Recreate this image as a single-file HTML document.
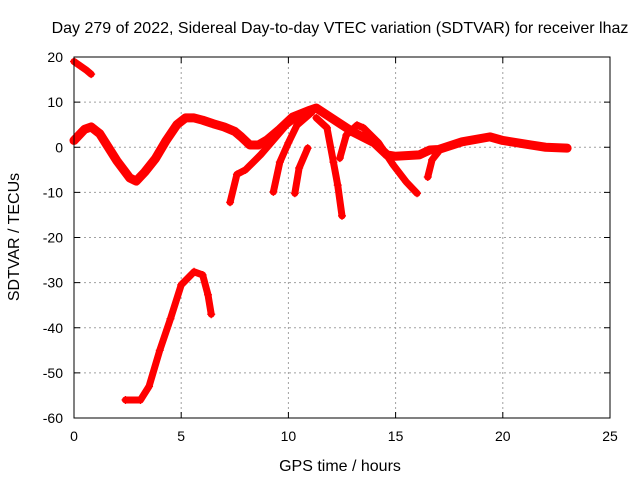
<!DOCTYPE html>
<html><head><meta charset="utf-8"><style>
body{margin:0;background:#fff}
svg{display:block;font-family:"Liberation Sans",sans-serif}
</style></head><body>
<svg id="chart" width="640" height="480">
<rect width="640" height="480" fill="#fff"/>
<g id="grid"></g>
<g id="series"></g>
<rect x="74" y="57" width="536" height="361" fill="none" stroke="#000" stroke-width="1"/>
<g id="ticks"></g>
<text x="340" y="33" text-anchor="middle" font-size="16">Day 279 of 2022, Sidereal Day-to-day VTEC variation (SDTVAR) for receiver lhaz</text>
<text x="340" y="471" text-anchor="middle" font-size="16">GPS time / hours</text>
<text transform="translate(19,237) rotate(-90)" text-anchor="middle" font-size="16">SDTVAR / TECUs</text>
</svg>
<script>
const xTicks=[0,5,10,15,20,25];
const yTicks=[-60,-50,-40,-30,-20,-10,0,10,20];
const trackA_t=[0,0.3,0.6,0.8];
const trackA_v=[19,18,17,16.2];
const trackMain_t=[0,0.5,0.8,1.2,2,2.6,2.9,3.3,3.8,4.3,4.8,5.2,5.6,6,6.5,7,7.5,7.8,8.2,8.6,9,9.6,10.2,11,11.3,12,13,14,14.6,15,16.1,16.6,17,18.1,19.4,20,21.3,22,23];
const trackMain_v=[1.5,4,4.5,3,-3,-6.8,-7.5,-5.5,-2.5,1.5,5,6.5,6.5,6,5.2,4.5,3.5,2.3,0.5,0.5,1.6,4,6.7,8.2,8.7,6.5,3.4,1,-1.7,-2,-1.7,-0.6,-0.5,1.2,2.3,1.5,0.5,0,-0.2];
const trackC_t=[7.28,7.6,8.0,8.7,9.9,10.5];
const trackC_v=[-12.2,-6,-5,-1.7,4.9,7.1];
const trackD_t=[9.3,9.6,10,10.4,11.1];
const trackD_v=[-9.9,-3.3,1,4.9,7.8];
const trackE_t=[10.3,10.5,10.9];
const trackE_v=[-10.2,-4.6,-0.2];
const trackF_t=[11.3,11.8,12.1,12.3,12.5];
const trackF_v=[6.5,4.3,-3.3,-8.4,-15.2];
const trackG_t=[12.4,12.7,13.2,13.5,14.2,14.9,15.5,16];
const trackG_v=[-2.4,2.7,4.9,4.3,1,-4,-7.7,-10.2];
const trackH_t=[16.5,16.7,17];
const trackH_v=[-6.6,-2.8,-1];
const trackI_t=[2.4,3.1,3.5,4,4.5,5,5.6,6,6.25,6.4];
const trackI_v=[-56,-56,-53,-45,-38,-30.5,-27.6,-28.3,-32.7,-37];
const tracks=[[trackA_t,trackA_v],[trackMain_t,trackMain_v],[trackC_t,trackC_v],[trackD_t,trackD_v],[trackE_t,trackE_v],[trackF_t,trackF_v],[trackG_t,trackG_v],[trackH_t,trackH_v],[trackI_t,trackI_v]];
const X=t=>74+t*536/25, Y=v=>57+(20-v)*361/80;
const NS="http://www.w3.org/2000/svg";
function mk(tag,attrs,parent){const e=document.createElementNS(NS,tag);for(const k in attrs)e.setAttribute(k,attrs[k]);parent.appendChild(e);return e;}
const grid=document.getElementById('grid'),ticks=document.getElementById('ticks'),ser=document.getElementById('series');
xTicks.forEach(t=>{const x=X(t);
 if(t>0&&t<25){const g=mk('line',{x1:x,x2:x,y1:57,y2:418,stroke:'#a0a0a0','stroke-dasharray':'2,3'},grid);
 
 }
 mk('line',{x1:x,x2:x,y1:418,y2:412,stroke:'#000'},ticks);mk('line',{x1:x,x2:x,y1:57,y2:63,stroke:'#000'},ticks);
 const l=mk('text',{x:x,y:441,'text-anchor':'middle','font-size':14},ticks);l.textContent=t;
 
 });
yTicks.forEach(v=>{const y=Y(v);
 if(v>-60&&v<20){const g=mk('line',{x1:74,x2:610,y1:y,y2:y,stroke:'#a0a0a0','stroke-dasharray':'2,3'},grid);
 
 }
 mk('line',{x1:74,x2:80,y1:y,y2:y,stroke:'#000'},ticks);mk('line',{x1:604,x2:610,y1:y,y2:y,stroke:'#000'},ticks);
 const l=mk('text',{x:63,y:y+5,'text-anchor':'end','font-size':14},ticks);l.textContent=v;
 
 });
tracks.forEach(([ts,vs],i)=>{
 const pts=ts.map((t,j)=>X(t)+','+Y(vs[j])).join(' ');
 const p=mk('polyline',{points:pts,fill:'none',stroke:'#ff0000','stroke-width':i===1?9:7,'stroke-linejoin':'round','stroke-linecap':'round'},ser);
 
 
 ts.forEach((t,j)=>{const x=X(t),y=Y(vs[j]);
  const m=mk('path',{d:`M${x-4},${y}H${x+4}M${x},${y-4}V${y+4}`,stroke:'#ff0000','stroke-width':1.2},ser);
  
  });
});
</script>
</body></html>
